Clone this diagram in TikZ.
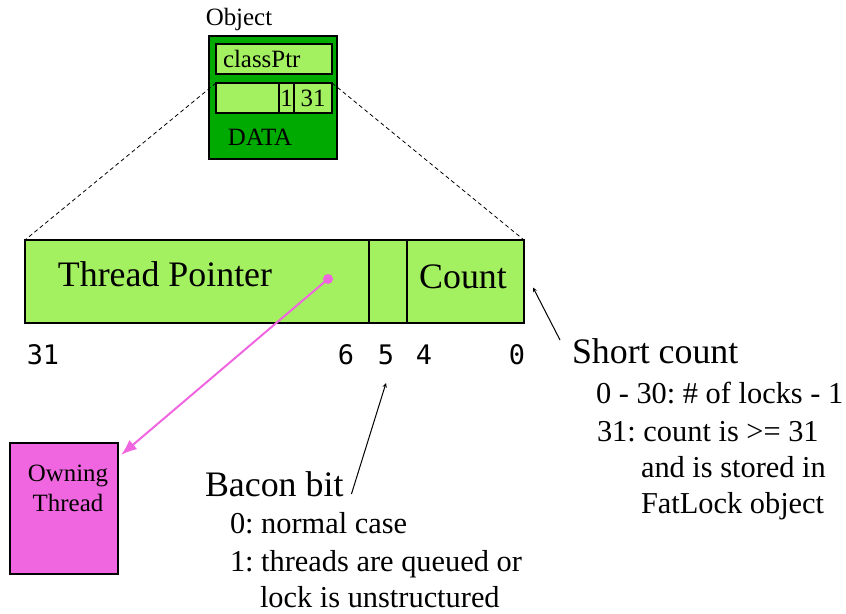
\documentclass[tikz,border=0pt]{standalone}
\usepackage{fontspec}
\setmainfont{Liberation Serif}
\setmonofont{DejaVu Sans Mono}
\usetikzlibrary{arrows.meta}
\definecolor{fieldgreen}{RGB}{163,240,96}
\definecolor{objgreen}{RGB}{0,170,0}
\definecolor{threadpink}{RGB}{240,102,224}
\frenchspacing
\begin{document}
\begin{tikzpicture}[x=1bp, y=-1bp, inner sep=0pt, outer sep=0pt,
	field/.style={draw, fill=fieldgreen, line width=1.3bp, anchor=north west},
	big/.style={font=\fontsize{36}{40}\selectfont},
	small/.style={font=\fontsize{30.5}{36}\selectfont, anchor=base west},
	tiny/.style={font=\fontsize{25}{30}\selectfont},
	bitno/.style={font=\ttfamily\fontsize{27}{30}\selectfont},
	zoomline/.style={line width=0.8bp, dash pattern=on 4bp off 3bp}]

	\useasboundingbox (0,0) rectangle (846,614);

	% Object
	\node[tiny] (objlbl) at (239,20) {Object};
	\node[draw, fill=objgreen, line width=2.5bp, anchor=north west, minimum width=128bp, minimum height=123bp] (obj) at (209,36) {};
	\node[field, minimum width=116bp, minimum height=30bp] (cls) at (216,44) {};
	\node[tiny, anchor=west] (clstxt) at (223,59) {classPtr};
	\node[field, minimum width=116bp, minimum height=30bp] (hdr) at (216,83) {};
	\node[field, tiny, minimum width=15bp, minimum height=30bp] (hdrbit) at (279,83) {1};
	\node[field, tiny, minimum width=38bp, minimum height=30bp] (hdrcnt) at (294,83) {31};
	\node[tiny] (datatxt) at (260,137) {DATA};

	% lock word
	\node[field, minimum width=344bp, minimum height=83bp] (tp) at (25,240) {};
	\node[field, minimum width=38bp, minimum height=83bp] (bacon) at (369,240) {};
	\node[field, minimum width=117bp, minimum height=83bp] (cnt) at (407,240) {};
	\node[big] (tptxt) at (165,274) {Thread Pointer};
	\node[big] (cnttxt) at (463,277) {Count};
	\draw[zoomline] (hdr.north west) -- (tp.north west);
	\draw[zoomline] (hdr.north east) -- (cnt.north east);

	% bit numbers
	\node[bitno] (b31) at (43,355) {31};
	\node[bitno] (b6) at (346,355) {6};
	\node[bitno] (b5) at (386,355) {5};
	\node[bitno] (b4) at (424,355) {4};
	\node[bitno] (b0) at (517,355) {0};

	% owning thread
	\coordinate (tpdot) at (328,279);
	\fill[threadpink] (tpdot) circle (5bp);
	\node[draw, fill=threadpink, line width=2.5bp, anchor=north west, minimum width=108bp, minimum height=131bp] (own) at (10,443) {};
	\node[tiny, align=center] (owntxt) at (68,488) {Owning\\Thread};
	\draw[threadpink, line width=2bp, -{Latex[length=16bp, width=12bp]}] (tpdot) -- ([shift={(3bp,-12bp)}]own.north east);

	% Short count
	\node[big, anchor=base west] (sc) at (572,363) {Short count};
	\node[small] (sc1) at (596,403) {0 - 30: \# of locks - 1};
	\node[small] (sc2) at (597,441) {31: count is >= 31};
	\node[small] (sc3) at (641,477) {and is stored in};
	\node[small] (sc4) at (641,513) {FatLock object};
	\draw[->, >=stealth, line width=1bp] ([shift={(-12bp,23bp)}]sc.base west) -- ([shift={(9bp,-6bp)}]cnt.east);

	% Bacon bit
	\node[big, anchor=base west] (bb) at (205,496) {Bacon bit};
	\node[small] (bb1) at (230,533) {0: normal case};
	\node[small] (bb2) at (230,571) {1: threads are queued or};
	\node[small] (bb3) at (260,607) {lock is unstructured};
	\draw[->, >=stealth, line width=1bp] ([shift={(8bp,2bp)}]bb.base east) -- ([shift={(0bp,-18bp)}]b5.south);
\end{tikzpicture}
\end{document}
